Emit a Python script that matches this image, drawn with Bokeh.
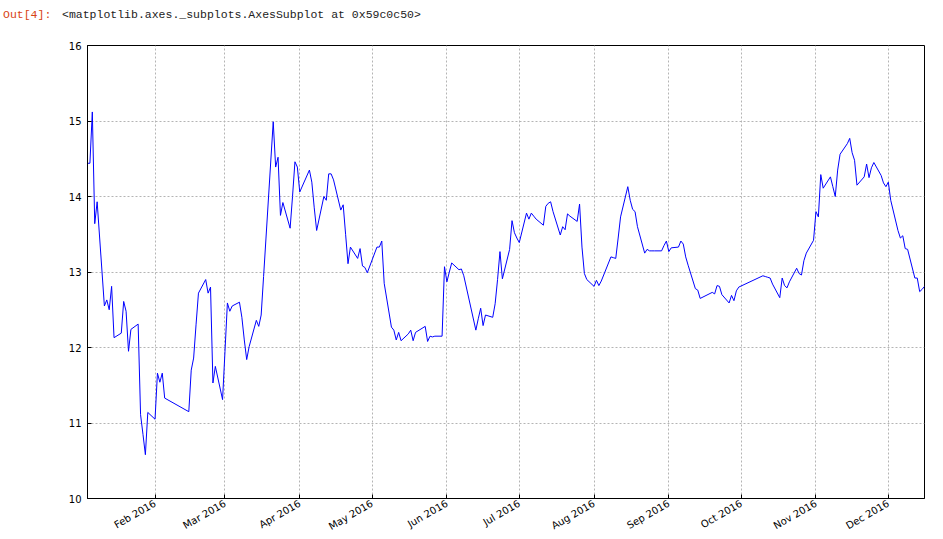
import html
import pandas as pd
from bokeh.plotting import figure
from bokeh.layouts import column
from bokeh.models import (Range1d, DatetimeTickFormatter, MonthsTicker,
                          FixedTicker, Div)
from bokeh.embed import file_html
from bokeh.resources import INLINE

trade_dates = [
    "2016-01-04", "2016-01-05", "2016-01-06", "2016-01-07", "2016-01-08",
    "2016-01-11", "2016-01-12", "2016-01-13", "2016-01-14", "2016-01-15",
    "2016-01-18", "2016-01-19", "2016-01-20", "2016-01-21", "2016-01-22",
    "2016-01-25", "2016-01-26", "2016-01-27", "2016-01-28", "2016-01-29",
    "2016-02-01", "2016-02-02", "2016-02-03", "2016-02-04", "2016-02-05",
    "2016-02-15", "2016-02-16", "2016-02-17", "2016-02-18", "2016-02-19",
    "2016-02-22", "2016-02-23", "2016-02-24", "2016-02-25", "2016-02-26",
    "2016-02-29", "2016-03-01", "2016-03-02", "2016-03-03", "2016-03-04",
    "2016-03-07", "2016-03-08", "2016-03-09", "2016-03-10", "2016-03-11",
    "2016-03-14", "2016-03-15", "2016-03-16", "2016-03-17", "2016-03-18",
    "2016-03-21", "2016-03-22", "2016-03-23", "2016-03-24", "2016-03-25",
    "2016-03-28", "2016-03-29", "2016-03-30", "2016-03-31", "2016-04-01",
    "2016-04-05", "2016-04-06", "2016-04-07", "2016-04-08",
    "2016-04-11", "2016-04-12", "2016-04-13", "2016-04-14", "2016-04-15",
    "2016-04-18", "2016-04-19", "2016-04-20", "2016-04-21", "2016-04-22",
    "2016-04-25", "2016-04-26", "2016-04-27", "2016-04-28", "2016-04-29",
    "2016-05-03", "2016-05-04", "2016-05-05", "2016-05-06",
    "2016-05-09", "2016-05-10", "2016-05-11", "2016-05-12", "2016-05-13",
    "2016-05-16", "2016-05-17", "2016-05-18", "2016-05-19", "2016-05-20",
    "2016-05-23", "2016-05-24", "2016-05-25", "2016-05-26", "2016-05-27",
    "2016-05-30", "2016-05-31", "2016-06-01", "2016-06-02", "2016-06-03",
    "2016-06-06", "2016-06-07", "2016-06-08",
    "2016-06-13", "2016-06-14", "2016-06-15", "2016-06-16", "2016-06-17",
    "2016-06-20", "2016-06-21", "2016-06-22", "2016-06-23", "2016-06-24",
    "2016-06-27", "2016-06-28", "2016-06-29", "2016-06-30", "2016-07-01",
    "2016-07-04", "2016-07-05", "2016-07-06", "2016-07-07", "2016-07-08",
    "2016-07-11", "2016-07-12", "2016-07-13", "2016-07-14", "2016-07-15",
    "2016-07-18", "2016-07-19", "2016-07-20", "2016-07-21", "2016-07-22",
    "2016-07-25", "2016-07-26", "2016-07-27", "2016-07-28", "2016-07-29",
    "2016-08-01", "2016-08-02", "2016-08-03", "2016-08-04", "2016-08-05",
    "2016-08-08", "2016-08-09", "2016-08-10", "2016-08-11", "2016-08-12",
    "2016-08-15", "2016-08-16", "2016-08-17", "2016-08-18", "2016-08-19",
    "2016-08-22", "2016-08-23", "2016-08-24", "2016-08-25", "2016-08-26",
    "2016-08-29", "2016-08-30", "2016-08-31", "2016-09-01", "2016-09-02",
    "2016-09-05", "2016-09-06", "2016-09-07", "2016-09-08", "2016-09-09",
    "2016-09-12", "2016-09-13", "2016-09-14",
    "2016-09-19", "2016-09-20", "2016-09-21", "2016-09-22", "2016-09-23",
    "2016-09-26", "2016-09-27", "2016-09-28", "2016-09-29", "2016-09-30",
    "2016-10-10", "2016-10-11", "2016-10-12", "2016-10-13", "2016-10-14",
    "2016-10-17", "2016-10-18", "2016-10-19", "2016-10-20", "2016-10-21",
    "2016-10-24", "2016-10-25", "2016-10-26", "2016-10-27", "2016-10-28",
    "2016-10-31", "2016-11-01", "2016-11-02", "2016-11-03", "2016-11-04",
    "2016-11-07", "2016-11-08", "2016-11-09", "2016-11-10", "2016-11-11",
    "2016-11-14", "2016-11-15", "2016-11-16", "2016-11-17", "2016-11-18",
    "2016-11-21", "2016-11-22", "2016-11-23", "2016-11-24", "2016-11-25",
    "2016-11-28", "2016-11-29", "2016-11-30", "2016-12-01", "2016-12-02",
    "2016-12-05", "2016-12-06", "2016-12-07", "2016-12-08", "2016-12-09",
    "2016-12-12", "2016-12-13", "2016-12-14", "2016-12-15", "2016-12-16",
]

close_values = [
    14.44, 14.44, 15.12, 13.64, 13.93,
    12.55, 12.63, 12.50, 12.81, 12.13,
    12.19, 12.61, 12.48, 11.95, 12.24,
    12.31, 11.11, 10.85, 10.58, 11.14,
    11.05, 11.66, 11.54, 11.66, 11.33,
    11.15, 11.70, 11.86, 12.30, 12.72,
    12.90, 12.72, 12.80, 11.53, 11.75,
    11.31, 11.95, 12.59, 12.48, 12.55,
    12.60, 12.40, 12.10, 11.84, 12.01,
    12.36, 12.28, 12.43, 12.94, 13.45,
    14.99, 14.39, 14.52, 13.75, 13.92,
    13.58, 14.00, 14.46, 14.39, 14.06,
    14.35, 14.19, 13.85, 13.55,
    14.00, 13.95, 14.30, 14.30, 14.22,
    13.82, 13.89, 13.50, 13.11, 13.33,
    13.18, 13.31, 13.08, 13.06, 12.99,
    13.33, 13.33, 13.41, 12.85,
    12.27, 12.23, 12.10, 12.20, 12.09,
    12.18, 12.23, 12.09, 12.20, 12.22,
    12.28, 12.08, 12.15, 12.14, 12.15,
    12.15, 13.07, 12.87, 13.00, 13.12,
    13.03, 13.04, 12.95,
    12.23, 12.38, 12.52, 12.29, 12.43,
    12.40, 12.58, 12.90, 13.27, 12.91,
    13.30, 13.68, 13.52, 13.45, 13.39,
    13.78, 13.70, 13.78, 13.74, 13.70,
    13.62, 13.87, 13.91, 13.93, 13.80,
    13.49, 13.60, 13.56, 13.77, 13.74,
    13.67, 13.90, 13.33, 12.98, 12.90,
    12.81, 12.89, 12.82, 12.88, 12.96,
    13.20, 13.19, 13.18, 13.45, 13.73,
    14.13, 13.95, 13.83, 13.80, 13.60,
    13.25, 13.30, 13.28, 13.28, 13.28,
    13.28, 13.35, 13.41, 13.27, 13.32,
    13.33, 13.41, 13.37, 13.20, 13.09,
    12.78, 12.76, 12.65,
    12.73, 12.71, 12.82, 12.81, 12.70,
    12.59, 12.69, 12.62, 12.75, 12.80,
    12.95, 12.94, 12.93, 12.92, 12.84,
    12.66, 12.92, 12.82, 12.79, 12.87,
    13.05, 12.98, 12.96, 13.15, 13.25,
    13.42, 13.80, 13.73, 14.29, 14.11,
    14.26, 14.13, 14.00, 14.35, 14.56,
    14.70, 14.77, 14.58, 14.48, 14.15,
    14.26, 14.43, 14.25, 14.38, 14.45,
    14.28, 14.18, 14.13, 14.19, 13.95,
    13.55, 13.45, 13.48, 13.31, 13.30,
    12.92, 12.92, 12.74, 12.77, 12.81,
]

y_ticks = [10, 11, 12, 13, 14, 15, 16]
out_prompt = "Out[4]:"
out_repr = "<matplotlib.axes._subplots.AxesSubplot at 0x59c0c50>"

# --- header line with the notebook output prompt ---
head_html = (
    '<div style="position:relative;width:943px;height:30px;'
    'font-family:\'Liberation Mono\',monospace;font-size:11.5px;line-height:14px;">'
    '<span style="position:absolute;left:3px;top:8px;color:#d84315;">'
    + html.escape(out_prompt) + '</span>'
    '<span style="position:absolute;left:62px;top:8px;color:#222222;">'
    + html.escape(out_repr) + '</span></div>'
)
head = Div(text=head_html, width=943, height=30, margin=0)

# --- main chart ---
x = pd.to_datetime(trade_dates)

p = figure(width=943, height=509, x_axis_type="datetime",
           output_backend="svg", toolbar_location=None,
           x_range=Range1d(x[0], x[-1]), y_range=Range1d(10, 16),
           min_border_left=87, min_border_right=19,
           min_border_top=15, min_border_bottom=40)

p.line(x, close_values, line_color="#0000ff", line_width=1)

p.outline_line_color = "black"
p.outline_line_width = 1
p.outline_line_alpha = 1.0
p.background_fill_color = "white"
p.border_fill_color = "white"

fmt = "%b %Y"
p.xaxis.formatter = DatetimeTickFormatter(days=fmt, months=fmt, years=fmt)
p.xaxis.ticker = MonthsTicker(months=list(range(12)))
p.yaxis.ticker = FixedTicker(ticks=y_ticks)

for ax in (p.xaxis[0], p.yaxis[0]):
    ax.axis_line_color = "black"
    ax.major_tick_in = 4
    ax.major_tick_out = 0
    ax.minor_tick_in = 0
    ax.minor_tick_out = 0
    ax.major_tick_line_color = "black"
    ax.major_label_text_font = "DejaVu Sans"
    ax.major_label_text_font_size = "10px"
    ax.major_label_text_color = "black"

p.xaxis.major_label_orientation = 0.5236
p.xaxis.major_label_standoff = 4
p.yaxis.major_label_standoff = 6

p.xgrid.grid_line_color = "#b4b4b4"
p.ygrid.grid_line_color = "#b4b4b4"
p.xgrid.grid_line_dash = "2 2"
p.ygrid.grid_line_dash = "2 2"

layout = column(head, p, spacing=0)
open("out.html", "w").write(file_html(layout, INLINE))
